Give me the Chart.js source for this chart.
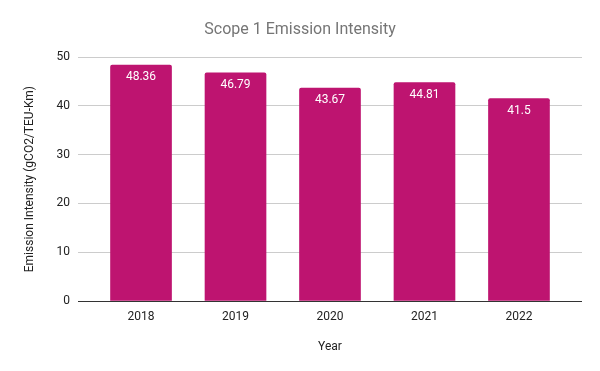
<!DOCTYPE html>
<html>
<head>
<meta charset="utf-8">
<script src="https://cdn.jsdelivr.net/npm/chart.js@4"></script>
<style>
  html, body { margin: 0; padding: 0; background: #fff; }
  #wrap { width: 600px; height: 371px; }
</style>
</head>
<body>
<div id="wrap"><canvas id="grafico"></canvas></div>
<script>
// dados
const anos = ["2018", "2019", "2020", "2021", "2022"];
const intensidade = [48.36, 46.79, 43.67, 44.81, 41.5];
const ticksY = [0, 10, 20, 30, 40, 50];

const corBarra = "#be1470";

// rótulos brancos dentro do topo de cada barra
const rotulosBarras = {
  id: "rotulosBarras",
  afterDatasetsDraw(chart) {
    const { ctx } = chart;
    const meta = chart.getDatasetMeta(0);
    ctx.save();
    ctx.fillStyle = "#ffffff";
    ctx.font = "12px Roboto, Arial, sans-serif";
    ctx.textAlign = "center";
    ctx.textBaseline = "middle";
    meta.data.forEach((barra, i) => {
      ctx.fillText(String(intensidade[i]), barra.x, barra.y + 12);
    });
    ctx.restore();
  },
};

new Chart(document.getElementById("grafico"), {
  type: "bar",
  data: {
    datasets: [
      {
        label: "Intensidade",
        data: intensidade.map((v, i) => ({ x: i, y: v })),
        backgroundColor: corBarra,
        borderRadius: { topLeft: 2, topRight: 2 },
        borderSkipped: "bottom",
        barThickness: 61,
      },
    ],
  },
  options: {
    responsive: true,
    maintainAspectRatio: false,
    animation: false,
    layout: { padding: { left: 18, right: 18, top: 0, bottom: 0 } },
    plugins: {
      legend: { display: false },
      tooltip: { enabled: false },
      title: {
        display: true,
        text: "Scope 1 Emission Intensity",
        color: "#757575",
        font: { family: "Roboto, Arial, sans-serif", size: 16, weight: "normal" },
        padding: { top: 20, bottom: 18 },
      },
    },
    scales: {
      x: {
        type: "linear",
        offset: false,
        min: -0.667,
        max: 4.667,
        afterBuildTicks(scale) {
          scale.ticks = anos.map((_, i) => ({ value: i }));
        },
        ticks: {
          color: "#222",
          font: { family: "Roboto, Arial, sans-serif", size: 12 },
          padding: 9,
          callback: (v) => anos[v] ?? "",
        },
        grid: { display: false, drawTicks: false },
        border: { display: false },
        title: {
          display: true,
          text: "Year",
          color: "#222",
          font: { family: "Roboto, Arial, sans-serif", size: 12 },
          padding: { top: 4, bottom: 17 },
        },
        afterFit(scale) { scale.height = 70; },
      },
      y: {
        min: 0,
        max: 50,
        afterBuildTicks(scale) {
          scale.ticks = ticksY.map((v) => ({ value: v }));
        },
        ticks: {
          color: "#222",
          font: { family: "Roboto, Arial, sans-serif", size: 12 },
          padding: 8,
        },
        grid: {
          drawTicks: false,
          color: (c) => (c.tick && c.tick.value === 0 ? "#333333" : "#cccccc"),
          lineWidth: 1,
        },
        border: { display: false },
        title: {
          display: true,
          text: "Emission Intensity (gCO2/TEU-Km)",
          color: "#222",
          font: { family: "Roboto, Arial, sans-serif", size: 12 },
          padding: { top: 5, bottom: 5 },
        },
        afterFit(scale) { scale.width = 60; },
      },
    },
  },
  plugins: [rotulosBarras],
});
</script>
</body>
</html>
